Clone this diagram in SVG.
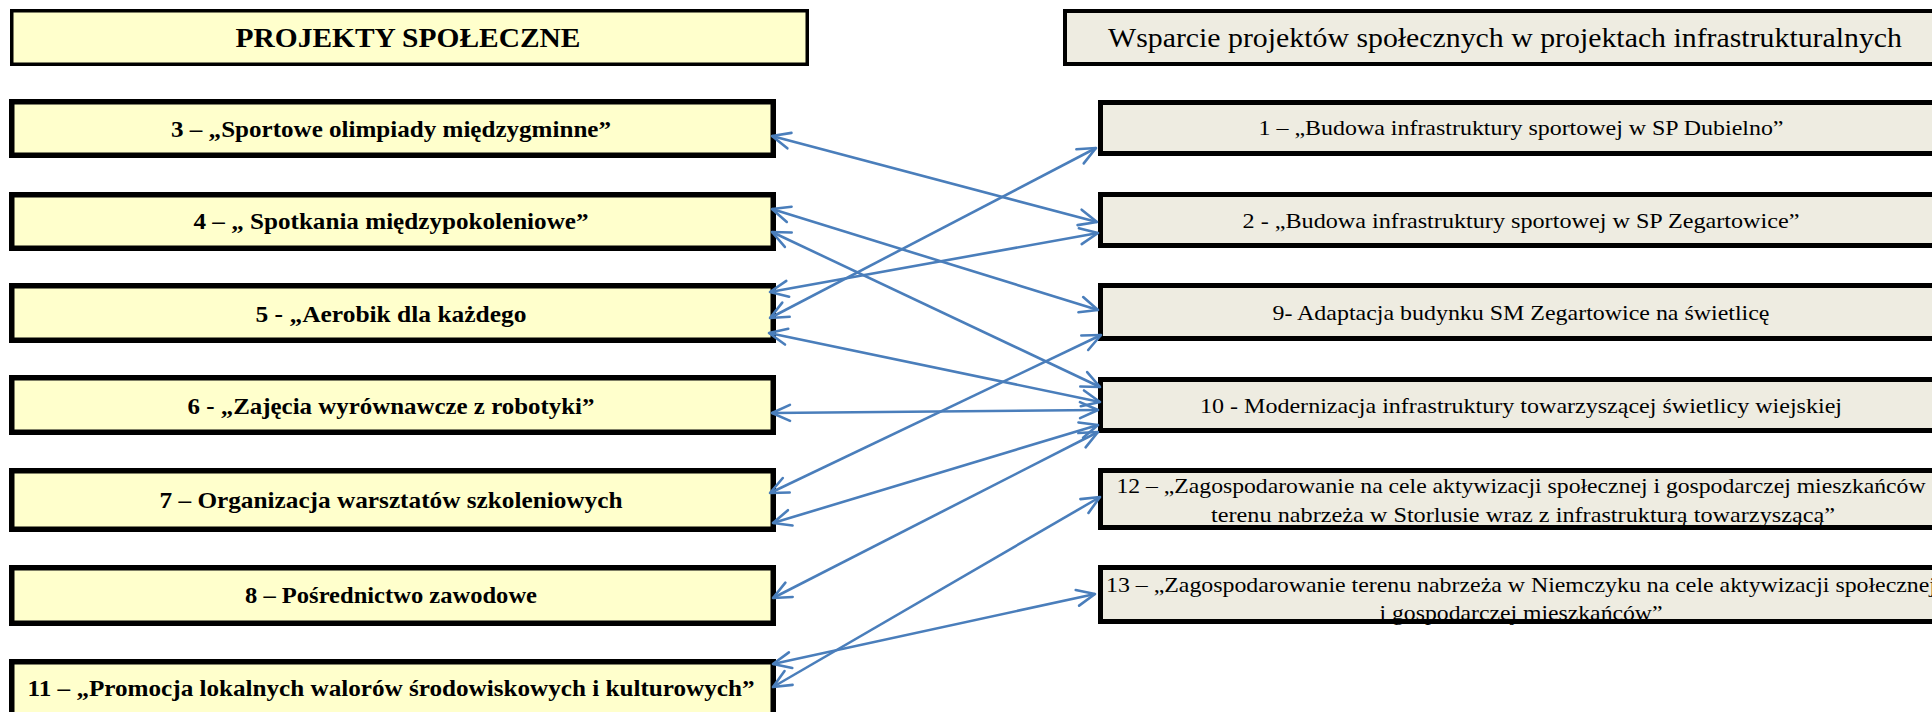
<svg xmlns="http://www.w3.org/2000/svg" width="1932" height="712" viewBox="0 0 1932 712">
<defs>
<style>
.hl{fill:#FFFFCC;stroke:#000;stroke-width:3.5}
.hr{fill:#EEECE1;stroke:#000;stroke-width:4}
.nl{fill:#FFFFCC;stroke:#000;stroke-width:5.5}
.nr{fill:#EEECE1;stroke:#000;stroke-width:5}
.edge{fill:none;stroke:#000;stroke-width:5}
.th{font-family:"Liberation Serif","Times New Roman",serif;font-size:28px;fill:#000;text-anchor:middle}
.tl{font-family:"Liberation Serif","Times New Roman",serif;font-size:24px;font-weight:bold;fill:#000;text-anchor:middle}
.tr{font-family:"Liberation Serif","Times New Roman",serif;font-size:22px;fill:#000;text-anchor:middle}
.c{fill:none;stroke:#4A7EBB;stroke-width:2.6;marker-start:url(#ah);marker-end:url(#ah)}
</style>
<marker id="ah" markerUnits="userSpaceOnUse" markerWidth="30" markerHeight="30" refX="0" refY="0" orient="auto-start-reverse" overflow="visible">
<path d="M-18,-8 L0,0 L-18,8" fill="none" stroke="#4A7EBB" stroke-width="2.6" stroke-linecap="round" stroke-linejoin="round"/>
</marker>
</defs>
<rect width="1932" height="712" fill="#fff"/>

<g id="header-left">
<rect class="hl" x="11.75" y="10.75" width="795.5" height="53.5"/>
<text class="th" x="408" y="47" font-weight="bold" textLength="345" lengthAdjust="spacingAndGlyphs">PROJEKTY SPOŁECZNE</text>
</g>
<g id="header-right">
<rect class="hr" x="1065" y="11" width="900" height="53"/>
<text class="th" x="1505" y="47" textLength="794" lengthAdjust="spacingAndGlyphs">Wsparcie projektów społecznych w projektach infrastrukturalnych</text>
</g>

<g id="p3">
<rect class="nl" x="11.75" y="101.75" width="761.5" height="53.5"/>
<text class="tl" x="391" y="137" textLength="440" lengthAdjust="spacingAndGlyphs">3 – „Sportowe olimpiady międzygminne”</text>
</g>
<g id="p4">
<rect class="nl" x="11.75" y="194.75" width="761.5" height="53.5"/>
<text class="tl" x="391" y="229" textLength="395" lengthAdjust="spacingAndGlyphs">4 – „ Spotkania międzypokoleniowe”</text>
</g>
<g id="p5">
<rect class="nl" x="11.75" y="285.75" width="761.5" height="54.5"/>
<text class="tl" x="391" y="322" textLength="271" lengthAdjust="spacingAndGlyphs">5 - „Aerobik dla każdego</text>
</g>
<g id="p6">
<rect class="nl" x="11.75" y="377.75" width="761.5" height="54.5"/>
<text class="tl" x="391" y="414" textLength="407" lengthAdjust="spacingAndGlyphs">6 - „Zajęcia wyrównawcze z robotyki”</text>
</g>
<g id="p7">
<rect class="nl" x="11.75" y="470.75" width="761.5" height="58.5"/>
<text class="tl" x="391" y="508" textLength="463" lengthAdjust="spacingAndGlyphs">7 – Organizacja warsztatów szkoleniowych</text>
</g>
<g id="p8">
<rect class="nl" x="11.75" y="567.75" width="761.5" height="55.5"/>
<text class="tl" x="391" y="603" textLength="292" lengthAdjust="spacingAndGlyphs">8 – Pośrednictwo zawodowe</text>
</g>
<g id="p11">
<rect class="nl" x="11.75" y="661.75" width="761.5" height="70"/>
<text class="tl" x="391" y="696" textLength="727" lengthAdjust="spacingAndGlyphs">11 – „Promocja lokalnych walorów środowiskowych i kulturowych”</text>
</g>

<g id="i1">
<rect class="nr" x="1100.5" y="102.5" width="900" height="51"/>
<text class="tr" x="1521" y="135" textLength="525" lengthAdjust="spacingAndGlyphs">1 – „Budowa infrastruktury sportowej w SP Dubielno”</text>
</g>
<g id="i2">
<rect class="nr" x="1100.5" y="194.5" width="900" height="51"/>
<text class="tr" x="1521" y="228" textLength="557" lengthAdjust="spacingAndGlyphs">2 - „Budowa infrastruktury sportowej w SP Zegartowice”</text>
</g>
<g id="i9">
<rect class="nr" x="1100.5" y="285.5" width="900" height="53"/>
<text class="tr" x="1521" y="320" textLength="497" lengthAdjust="spacingAndGlyphs">9- Adaptacja budynku SM  Zegartowice na świetlicę</text>
</g>
<g id="i10">
<rect class="nr" x="1100.5" y="379.5" width="900" height="51"/>
<text class="tr" x="1521" y="413" textLength="642" lengthAdjust="spacingAndGlyphs">10 - Modernizacja infrastruktury towarzyszącej świetlicy wiejskiej</text>
</g>
<g id="i12">
<rect class="nr" x="1100.5" y="470.5" width="900" height="57"/>
<text class="tr" x="1521" y="493" textLength="809" lengthAdjust="spacingAndGlyphs">12 – „Zagospodarowanie na cele aktywizacji społecznej i gospodarczej mieszkańców</text>
<text class="tr" x="1523" y="522" textLength="624" lengthAdjust="spacingAndGlyphs">terenu nabrzeża w Storlusie wraz z infrastrukturą towarzyszącą”</text>
</g>
<g id="i13">
<rect class="nr" x="1100.5" y="567.5" width="900" height="54"/>
<text class="tr" x="1521" y="592" textLength="830" lengthAdjust="spacingAndGlyphs">13 – „Zagospodarowanie terenu nabrzeża w Niemczyku na cele aktywizacji społecznej</text>
<text class="tr" x="1521" y="620" textLength="283" lengthAdjust="spacingAndGlyphs">i gospodarczej mieszkańców”</text>
<rect class="edge" x="1100.5" y="567.5" width="900" height="54"/>
</g>

<g id="connectors">
<line class="c" x1="772" y1="136" x2="1097" y2="222"/>
<line class="c" x1="772" y1="209" x2="1098" y2="310"/>
<line class="c" x1="772" y1="232" x2="1100" y2="387"/>
<line class="c" x1="770" y1="292" x2="1098" y2="233"/>
<line class="c" x1="770" y1="318" x2="1096" y2="148"/>
<line class="c" x1="769" y1="333" x2="1100" y2="402"/>
<line class="c" x1="772" y1="413" x2="1098" y2="410"/>
<line class="c" x1="770" y1="493" x2="1101" y2="335"/>
<line class="c" x1="773" y1="523" x2="1098" y2="425"/>
<line class="c" x1="773" y1="598" x2="1098" y2="432"/>
<line class="c" x1="773" y1="664" x2="1095" y2="594"/>
<line class="c" x1="773" y1="687" x2="1100" y2="497"/>
</g>
</svg>
